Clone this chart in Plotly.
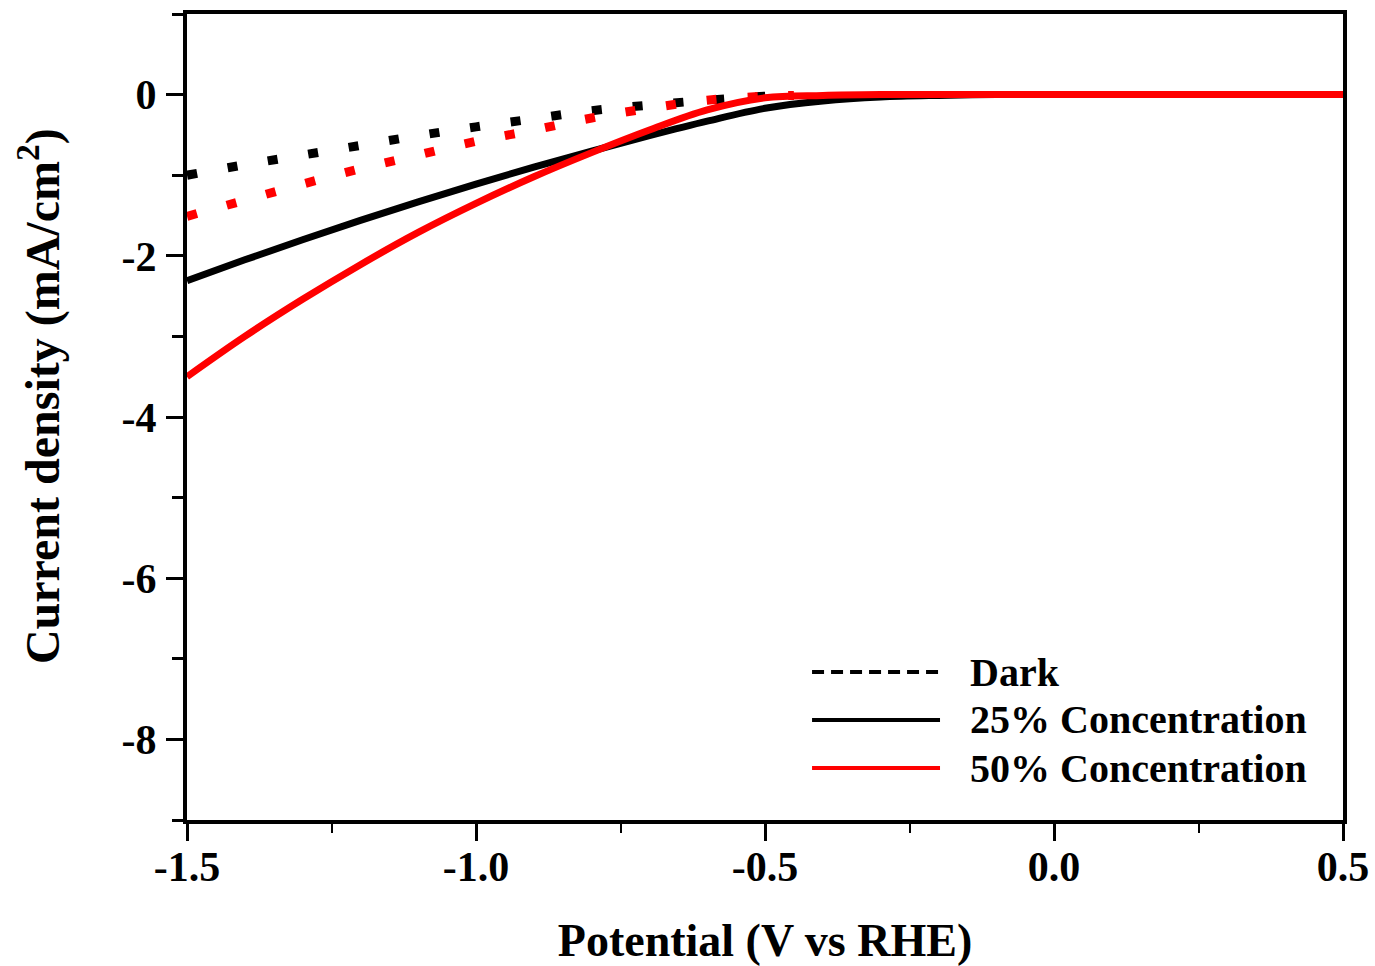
import plotly.graph_objects as go

# ---- data ----
potential = [-1.5, -1.4, -1.3, -1.2, -1.1, -1.0, -0.9, -0.8, -0.7, -0.6, -0.5,
             -0.4, -0.3, -0.2, -0.1, 0.0, 0.1, 0.2, 0.3, 0.4, 0.5]
dark_potential = [-1.5, -1.4, -1.3, -1.2, -1.1, -1.0, -0.9, -0.8, -0.7, -0.6, -0.5, -0.45]
dark_black = [-1.00, -0.87, -0.75, -0.63, -0.51, -0.40, -0.30, -0.20, -0.13, -0.07, -0.02, -0.01]
dark_red = [-1.51, -1.31, -1.11, -0.92, -0.75, -0.58, -0.44, -0.29, -0.17, -0.07, -0.02, -0.01]
conc_25 = [-2.31, -2.05, -1.80, -1.56, -1.33, -1.11, -0.90, -0.70, -0.51, -0.33, -0.17,
           -0.08, -0.03, -0.01, 0.0, 0.0, 0.0, 0.0, 0.0, 0.0, 0.0]
conc_50 = [-3.50, -3.00, -2.54, -2.11, -1.71, -1.35, -1.02, -0.72, -0.44, -0.19, -0.04,
           -0.01, 0.0, 0.0, 0.0, 0.0, 0.0, 0.0, 0.0, 0.0, 0.0]

legend_labels = ["Dark", "25% Concentration", "50% Concentration"]
x_tickvals = [-1.5, -1.0, -0.5, 0.0, 0.5]
x_ticktext = ["-1.5", "-1.0", "-0.5", "0.0", "0.5"]
y_tickvals = [-8, -6, -4, -2, 0]
y_ticktext = ["-8", "-6", "-4", "-2", "0"]

FONT = "Liberation Serif"
BLACK = "#000000"
RED = "#ff0000"

fig = go.Figure()
fig.add_trace(go.Scatter(x=dark_potential, y=dark_black, mode="lines", showlegend=False,
                         line=dict(color=BLACK, width=9, dash="10px,31px", shape="spline", smoothing=1.0)))
fig.add_trace(go.Scatter(x=dark_potential, y=dark_red, mode="lines", showlegend=False,
                         line=dict(color=RED, width=9, dash="10px,31px", shape="spline", smoothing=1.0)))
fig.add_trace(go.Scatter(x=potential, y=conc_25, mode="lines", showlegend=False,
                         line=dict(color=BLACK, width=7, shape="spline", smoothing=1.0)))
fig.add_trace(go.Scatter(x=potential, y=conc_50, mode="lines", showlegend=False,
                         line=dict(color=RED, width=7, shape="spline", smoothing=1.0)))

# ---- manual legend ----
leg_x0, leg_x1, leg_tx = 0.5407, 0.6514, 0.6756
leg_y = [0.1836, 0.1241, 0.0645]
leg_styles = [dict(color=BLACK, width=4, dash="12px,7px"),
              dict(color=BLACK, width=4),
              dict(color=RED, width=4)]
for lbl, yy, st in zip(legend_labels, leg_y, leg_styles):
    fig.add_shape(type="line", xref="paper", yref="paper", x0=leg_x0, x1=leg_x1,
                  y0=yy, y1=yy, line=st)
    fig.add_annotation(xref="paper", yref="paper", x=leg_tx, y=yy, text="<b>" + lbl + "</b>",
                       showarrow=False, xanchor="left", yanchor="middle",
                       font=dict(family=FONT, size=40, color=BLACK))

# y-axis title as a rotated annotation (placed slightly above centre, as in the reference)
fig.add_annotation(xref="paper", yref="paper", x=-0.128, y=0.526,
                   text="<b>Current density (mA/cm<sup>2</sup>)</b>", textangle=-90,
                   showarrow=False, xanchor="center", yanchor="middle",
                   font=dict(family=FONT, size=48, color=BLACK))

axis_common = dict(
    showline=True, linecolor=BLACK, linewidth=4, mirror=True,
    ticks="outside", tickcolor=BLACK, tickwidth=3, ticklen=17,
    showgrid=False, zeroline=False, automargin=False,
    tickfont=dict(family=FONT, size=42, color=BLACK),
)

fig.update_layout(
    width=1375, height=966,
    margin=dict(l=187, r=32, t=14, b=146),
    paper_bgcolor="white", plot_bgcolor="white",
    font=dict(family=FONT, color=BLACK),
    xaxis=dict(range=[-1.5, 0.5], tickmode="array", tickvals=x_tickvals,
               ticktext=["<b>" + t + "</b>" for t in x_ticktext],
               ticklabelstandoff=-10,
               minor=dict(dtick=0.25, ticks="outside", ticklen=9, tickwidth=2, tickcolor=BLACK),
               title=dict(text="<b>Potential (V vs RHE)</b>", standoff=45,
                          font=dict(family=FONT, size=46, color=BLACK)),
               **axis_common),
    yaxis=dict(range=[-9, 1], tickmode="array", tickvals=y_tickvals,
               ticktext=["<b>" + t + "</b>" for t in y_ticktext],
               ticklabelstandoff=1,
               minor=dict(dtick=1, ticks="outside", ticklen=11, tickwidth=3, tickcolor=BLACK),
               **axis_common),
)

fig.write_html("out.html", config={"displayModeBar": False},
               post_script="document.body.style.margin='0px';document.body.style.overflow='hidden';")
